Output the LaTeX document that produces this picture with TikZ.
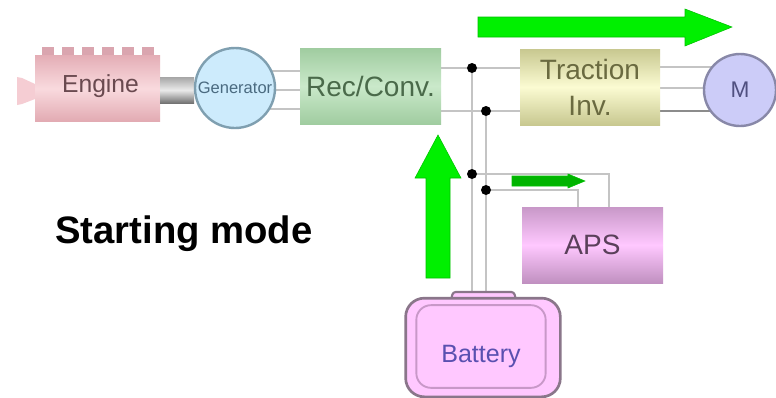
\documentclass[tikz,border=0pt]{standalone}
\usepackage{fontspec}
\setmainfont{Liberation Sans}
\usetikzlibrary{calc,backgrounds}
\definecolor{wirec}{HTML}{C4C4C4}
\definecolor{flowg}{HTML}{00F000}
\definecolor{batline}{HTML}{8A768A}
\definecolor{batfill}{HTML}{FFC8FF}
\definecolor{knobc}{HTML}{F5CDD3}
\tikzset{
  blockbox/.style={rectangle,inner sep=0pt,minimum width=#1*0.75pt,align=center},
  grad/.style n args={3}{top color=#1,bottom color=#3,middle color=#2},
  wire/.style={draw=wirec,line width=1.9pt},
  junction/.style={circle,fill=black,inner sep=0pt,minimum size=7.5pt},
  flow/.style={fill=flowg,draw=black!20!flowg,line width=0.4pt},
  lbl/.style={font=\fontsize{21}{27}\selectfont}
}
\begin{document}
\begin{tikzpicture}[x=0.75pt,y=-0.75pt]
\useasboundingbox (0,0) rectangle (776,397);

% engine
\fill[fill=knobc] (17,77) -- (22,78) -- (35,84) -- (35,99) -- (22,104) -- (17,105) -- cycle;
\foreach \tx in {42,62,82,102,122,142}
  \fill[fill={rgb,255:red,218;green,165;blue,175}] (\tx,47) rectangle +(12,9);
\definecolor{enga}{HTML}{E4AEB6}
\definecolor{engb}{HTML}{F9DADE}
\definecolor{engc}{HTML}{E2AAB2}
\definecolor{engt}{HTML}{6A4A50}
\node[blockbox=125,minimum height=66*0.75pt,grad={enga}{engb}{engc}] (engine) at (97.5,88.5) {};
\node[inner sep=0pt,text=engt,font=\fontsize{18.5}{22}\selectfont] (engtxt) at (100.5,86) {Engine};

% shaft
\node[rectangle,minimum width=34*0.75pt,minimum height=26*0.75pt,inner sep=0pt,grad={black!35}{black!8}{black!55}] (shaft) at (177,90) {};

% generator
\definecolor{gend}{HTML}{7F9FB0}
\definecolor{genf}{HTML}{CDEBFC}
\definecolor{gent}{HTML}{4A6A80}
\node[circle,draw=gend,line width=1.8pt,fill=genf,minimum size=60pt,inner sep=0pt,text=gent,font=\fontsize{12.4}{14}\selectfont] (gen) at (235,88) {Generator};

% rec/conv
\definecolor{reca}{HTML}{A0CCA0}
\definecolor{recb}{HTML}{CAE9CA}
\definecolor{rect}{HTML}{4A6A4A}
\node[blockbox=141,minimum height=76*0.75pt,grad={reca}{recb}{reca},text=rect,lbl] (rec) at (370.5,86) {Rec/Conv.};

% traction
\definecolor{inva}{HTML}{C8C890}
\definecolor{invb}{HTML}{FBFBD2}
\definecolor{invt}{HTML}{6A6A40}
\node[blockbox=140,minimum height=76*0.75pt,grad={inva}{invb}{inva},text=invt,lbl] (inv) at (590,87) {Traction\\Inv.};

% motor
\definecolor{motd}{HTML}{8888A8}
\definecolor{motf}{HTML}{CCCCF8}
\definecolor{mott}{HTML}{505080}
\node[circle,draw=motd,line width=1.8pt,fill=motf,minimum size=54pt,inner sep=0pt,text=mott,font=\fontsize{17}{20}\selectfont] (mot) at (740,90) {M};

% aps
\definecolor{apsa}{HTML}{C898C8}
\definecolor{apsc}{HTML}{C090C0}
\definecolor{apst}{HTML}{5A405A}
\node[blockbox=141,minimum height=76*0.75pt,grad={apsa}{batfill}{apsc},text=apst,lbl] (aps) at (592.5,245) {APS};

% battery
\draw[draw=batline,line width=1.6pt,fill=batfill,rounded corners=2pt] (451,300) -- (453,292) -- (514,292) -- (516,300) -- cycle;
\node[rectangle,rounded corners=14pt,draw=batline,line width=2pt,fill=batfill,minimum width=116pt,minimum height=74pt,inner sep=0pt] (bat) at (483,347.5) {};
\node[rectangle,rounded corners=11pt,draw=apsa,line width=1.4pt,minimum width=97pt,minimum height=62pt,inner sep=0pt] (batin) at (481,346.5) {};
\definecolor{batt}{HTML}{5A50B0}
\node[inner sep=0pt,text=batt,font=\fontsize{18.8}{20}\selectfont] (battxt) at (481,356) {Battery};

% junctions
\node[junction] (j1) at (472,68) {};
\node[junction] (j2) at (486,111) {};
\node[junction] (j3) at (472,174) {};
\node[junction] (j4) at (486,190) {};
\coordinate (bt1) at (472,292);
\coordinate (bt2) at (486,292);
\coordinate (ap1) at (609,207);
\coordinate (ap2) at (578,207);

% wires (under everything)
\begin{scope}[on background layer]
\fill[white] (0,0) rectangle (776,397);
\draw[wire] (gen.center |- 0,90) -- (rec.west |- 0,90);
\draw[wire] (gen.center |- 0,71) -- (rec.west |- 0,71);
\draw[wire] (gen.center |- 0,109) -- (rec.west |- 0,109);
\draw[wire] (rec.east |- j1) -- (j1) -- (inv.west |- j1);
\draw[wire] (rec.east |- j2) -- (j2) -- (inv.west |- j2);
\draw[wire] (inv.east |- 0,67) -- (mot.center |- 0,67);
\draw[wire] (inv.east |- 0,88) -- (mot.center |- 0,88);
\draw[wire,draw=black!45] (inv.east |- 0,111) -- (mot.center |- 0,111);
\draw[wire] (j1) -- (j3) -- (bt1);
\draw[wire] (j2) -- (j4) -- (bt2);
\draw[wire] (j3) -| (ap1);
\draw[wire] (j4) -| (ap2);
\end{scope}

% flow arrows
\fill[flow] (478,17) -- (685,17) -- (685,9) -- (732,27) -- (685,46) -- (685,37) -- (478,37) -- cycle;
\fill[flow] (426,278) -- (426,178) -- (415,178) -- (438,135) -- (461,178) -- (450,178) -- (450,278) -- cycle;
\fill[flow,fill=flowg!75!black] (512,176) -- (568,176) -- (568,174) -- (585,181) -- (568,188) -- (568,186) -- (512,186) -- cycle;

% caption
\node[anchor=west,inner sep=0pt,font=\bfseries\fontsize{28.7}{32}\selectfont] (cap) at (55,234) {Starting mode};
\end{tikzpicture}
\end{document}
